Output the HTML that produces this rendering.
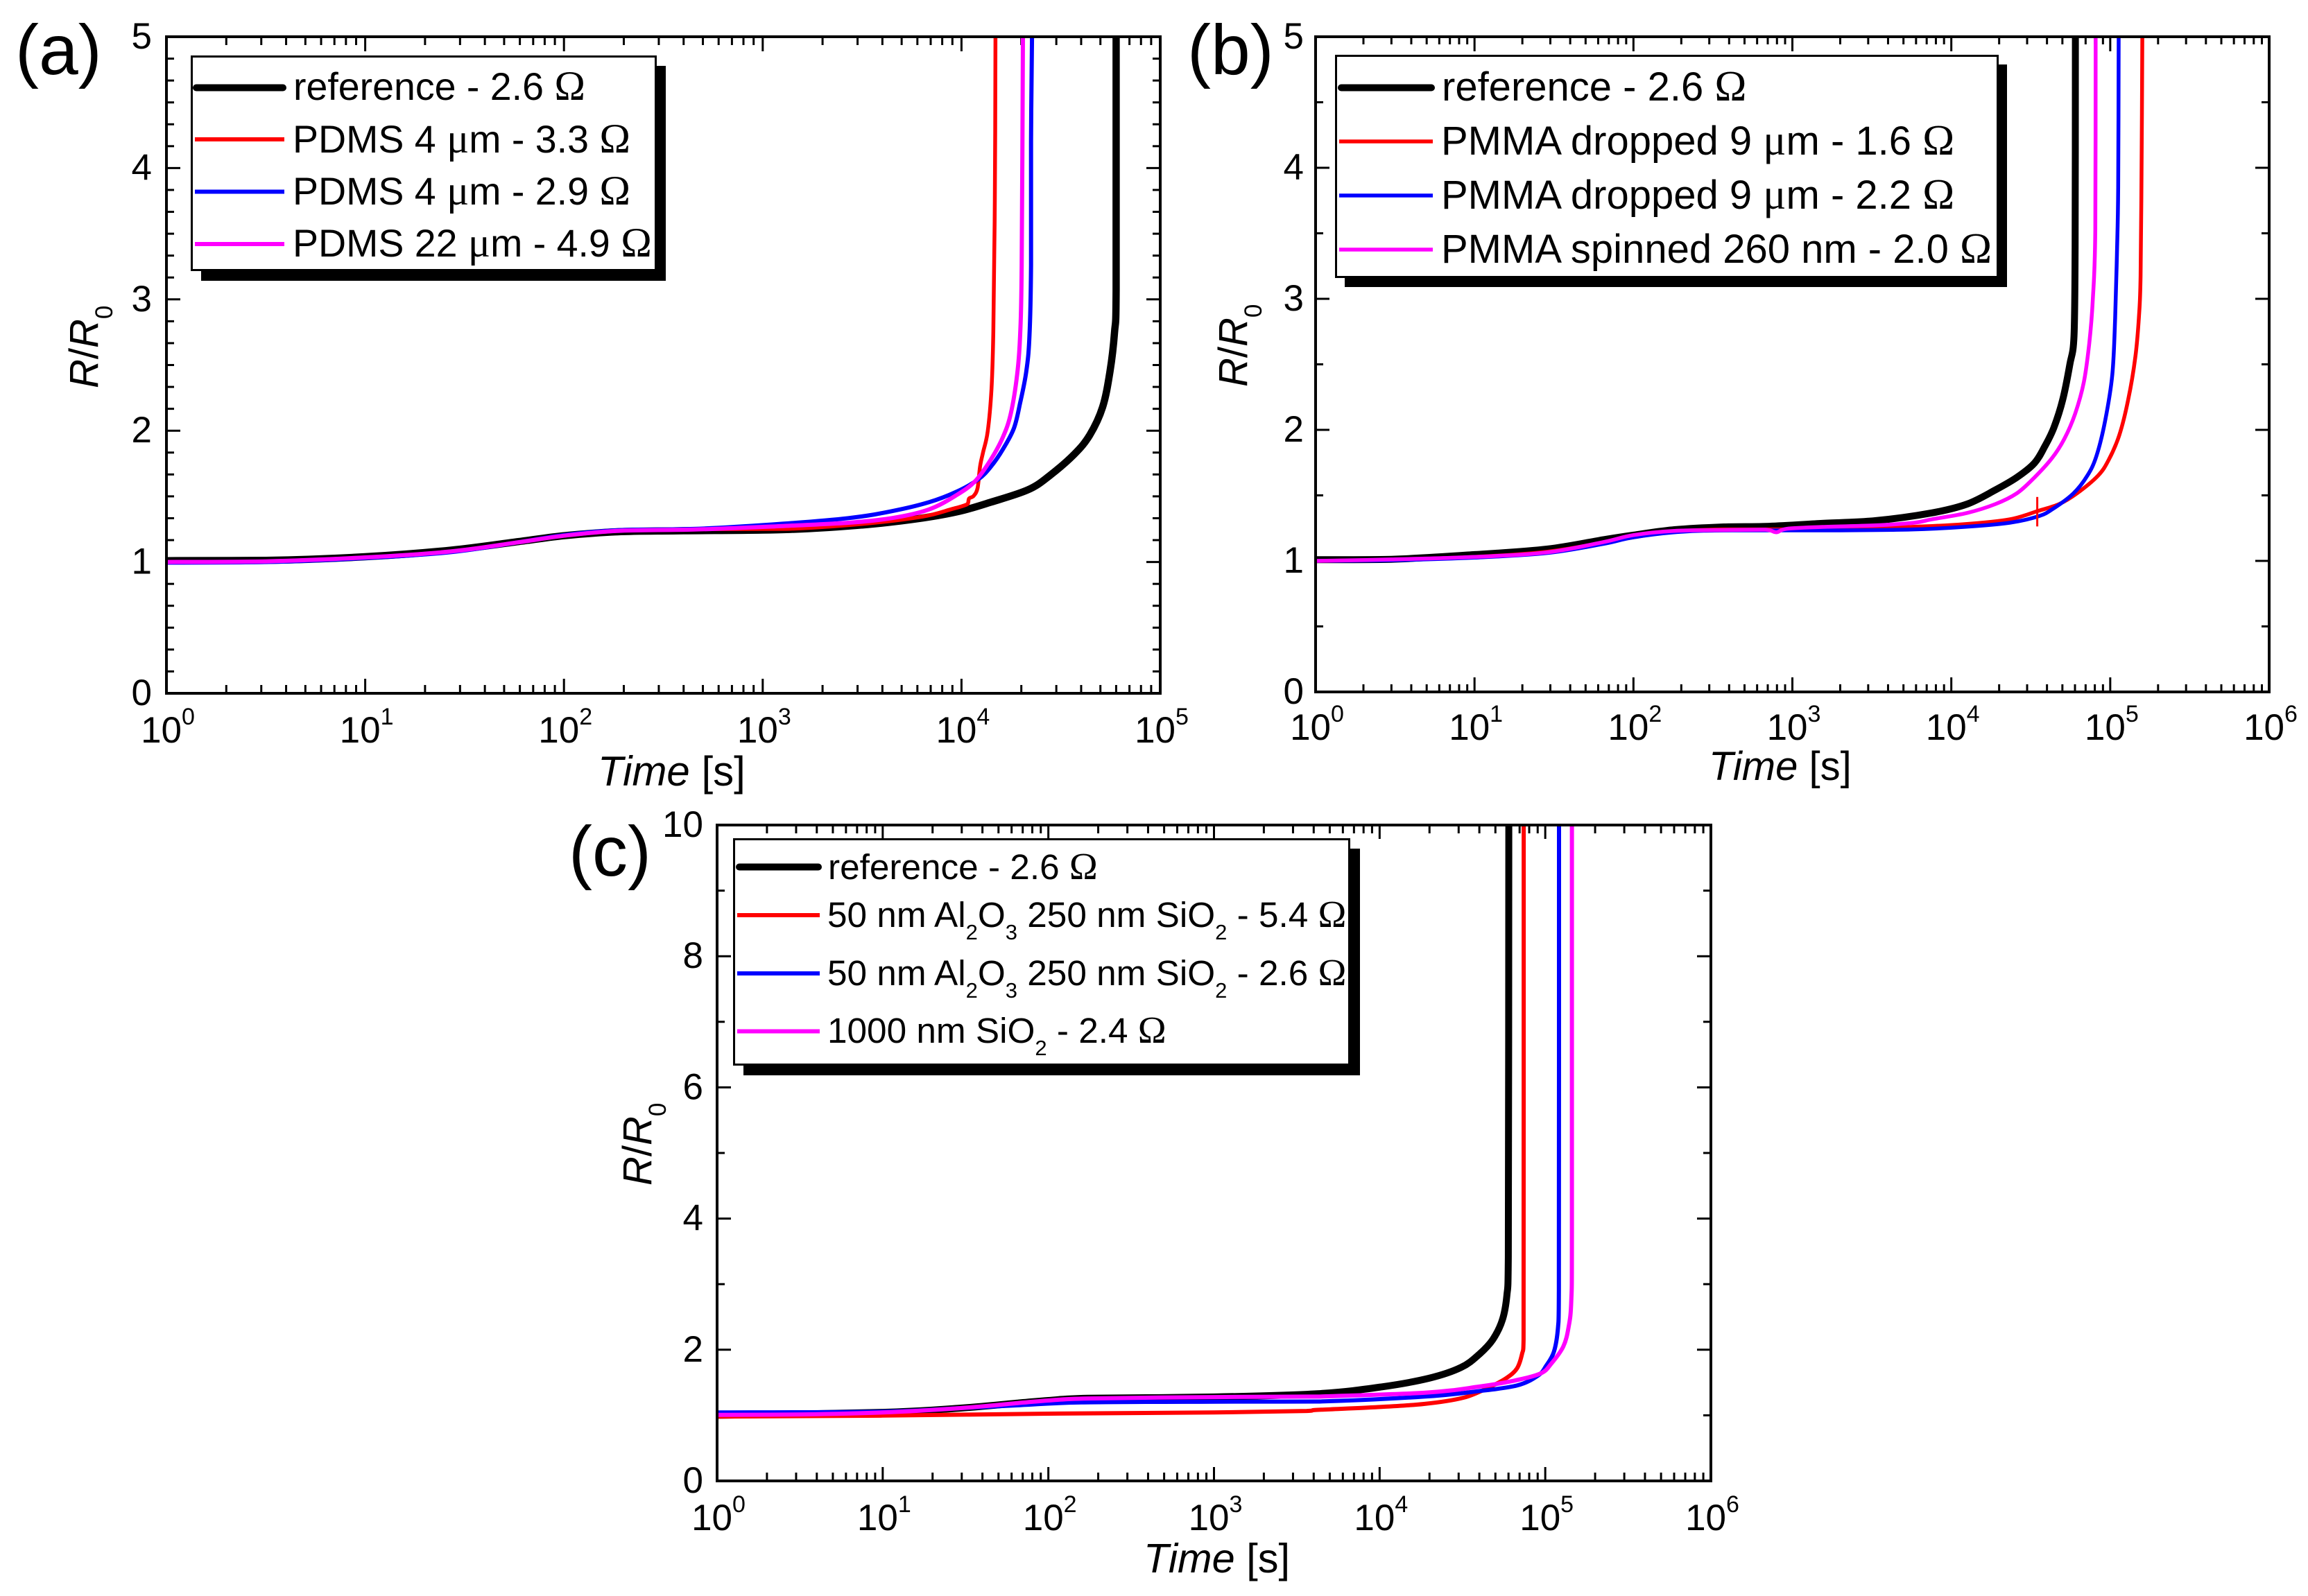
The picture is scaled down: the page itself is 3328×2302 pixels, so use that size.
<!DOCTYPE html>
<html lang="en">
<head>
<meta charset="utf-8">
<title>Normalized resistance versus time</title>
<style>
html,body{margin:0;padding:0;background:#fff;}
svg{display:block;}
text{font-family:"Liberation Sans",Arial,sans-serif;fill:#000;}
.omega{font-family:"Liberation Serif","Times New Roman",serif;}
.la .omega{font-size:60px;}
.lb .omega{font-size:62px;}
.lc .omega{font-size:55px;}
.it{font-style:italic;}
</style>
</head>
<body>
<svg id="figure" xmlns="http://www.w3.org/2000/svg" width="3328" height="2302" viewBox="0 0 3328 2302">
  <rect width="3328" height="2302" fill="#fff"/>
  <g id="panel-a"></g>
  <g id="panel-b"></g>
  <g id="panel-c"></g>

  <!-- Panel labels -->
  <text x="22" y="107" font-size="102">(a)</text>
  <text x="1712" y="107" font-size="102">(b)</text>
  <text x="820" y="1263" font-size="102">(c)</text>

  <!-- Axis titles -->
  <text x="862" y="1133" font-size="60"><tspan class="it">Time</tspan> [s]</text>
  <text x="2464" y="1125" font-size="58"><tspan class="it">Time</tspan> [s]</text>
  <text x="1649" y="2268" font-size="59.5"><tspan class="it">Time</tspan> [s]</text>
  <text transform="translate(141 560) rotate(-90)" font-size="58"><tspan class="it">R</tspan>/<tspan class="it">R</tspan><tspan dy="21" font-size="35">0</tspan></text>
  <text transform="translate(1798 558) rotate(-90)" font-size="58"><tspan class="it">R</tspan>/<tspan class="it">R</tspan><tspan dy="21" font-size="35">0</tspan></text>
  <text transform="translate(939 1710) rotate(-90)" font-size="58"><tspan class="it">R</tspan>/<tspan class="it">R</tspan><tspan dy="21" font-size="35">0</tspan></text>

  <!-- Legend A -->
  <g class="la">
    <rect x="290" y="95" width="670" height="310" fill="#000"/>
    <rect x="276.5" y="81.5" width="669" height="308" fill="#fff" stroke="#000" stroke-width="3"/>
    <line x1="283" x2="408" y1="126.5" y2="126.5" stroke="#000" stroke-width="10" stroke-linecap="round"/>
    <text x="423" y="144" font-size="55.5">reference - 2.6 <tspan class="omega">Ω</tspan></text>
    <line x1="281" x2="410" y1="201" y2="201" stroke="#f00" stroke-width="6"/>
    <text x="422" y="220" font-size="55.5">PDMS 4 <tspan class="omega">μ</tspan>m - 3.3 <tspan class="omega">Ω</tspan></text>
    <line x1="281" x2="410" y1="276.5" y2="276.5" stroke="#00f" stroke-width="6"/>
    <text x="422" y="295" font-size="55.5">PDMS 4 <tspan class="omega">μ</tspan>m - 2.9 <tspan class="omega">Ω</tspan></text>
    <line x1="281" x2="410" y1="352" y2="352" stroke="#f0f" stroke-width="6"/>
    <text x="422" y="370" font-size="55.5">PDMS 22 <tspan class="omega">μ</tspan>m - 4.9 <tspan class="omega">Ω</tspan></text>
  </g>

  <!-- Legend B -->
  <g class="lb">
    <rect x="1939" y="93" width="955" height="321" fill="#000"/>
    <rect x="1926.5" y="80.5" width="954" height="319" fill="#fff" stroke="#000" stroke-width="3"/>
    <line x1="1934" x2="2064" y1="126.5" y2="126.5" stroke="#000" stroke-width="10" stroke-linecap="round"/>
    <text x="2079" y="145" font-size="58">reference - 2.6 <tspan class="omega">Ω</tspan></text>
    <line x1="1931" x2="2066" y1="204" y2="204" stroke="#f00" stroke-width="5.5"/>
    <text x="2078" y="223" font-size="58">PMMA dropped 9 <tspan class="omega">μ</tspan>m - 1.6 <tspan class="omega">Ω</tspan></text>
    <line x1="1931" x2="2066" y1="282" y2="282" stroke="#00f" stroke-width="5.5"/>
    <text x="2078" y="301" font-size="58">PMMA dropped 9 <tspan class="omega">μ</tspan>m - 2.2 <tspan class="omega">Ω</tspan></text>
    <line x1="1931" x2="2066" y1="360" y2="360" stroke="#f0f" stroke-width="5.5"/>
    <text x="2078" y="379" font-size="58">PMMA spinned 260 nm - 2.0 <tspan class="omega">Ω</tspan></text>
  </g>

  <!-- Legend C -->
  <g class="lc">
    <rect x="1072" y="1224" width="889" height="327" fill="#000"/>
    <rect x="1058.5" y="1210.5" width="887" height="325" fill="#fff" stroke="#000" stroke-width="3"/>
    <line x1="1066" x2="1180" y1="1250.5" y2="1250.5" stroke="#000" stroke-width="10" stroke-linecap="round"/>
    <text x="1194" y="1268" font-size="51.3">reference - 2.6 <tspan class="omega">Ω</tspan></text>
    <line x1="1063" x2="1182" y1="1320" y2="1320" stroke="#f00" stroke-width="6"/>
    <text x="1193" y="1337" font-size="51.3">50 nm Al<tspan dy="18" font-size="31">2</tspan><tspan dy="-18">O</tspan><tspan dy="18" font-size="31">3</tspan><tspan dy="-18"> 250 nm SiO</tspan><tspan dy="18" font-size="31">2</tspan><tspan dy="-18"> - 5.4 </tspan><tspan class="omega">Ω</tspan></text>
    <line x1="1063" x2="1182" y1="1404" y2="1404" stroke="#00f" stroke-width="6"/>
    <text x="1193" y="1421" font-size="51.3">50 nm Al<tspan dy="18" font-size="31">2</tspan><tspan dy="-18">O</tspan><tspan dy="18" font-size="31">3</tspan><tspan dy="-18"> 250 nm SiO</tspan><tspan dy="18" font-size="31">2</tspan><tspan dy="-18"> - 2.6 </tspan><tspan class="omega">Ω</tspan></text>
    <line x1="1063" x2="1182" y1="1487.5" y2="1487.5" stroke="#f0f" stroke-width="6"/>
    <text x="1193" y="1504" font-size="51.3">1000 nm SiO<tspan dy="18" font-size="31">2</tspan><tspan dy="-18"> - 2.4 </tspan><tspan class="omega">Ω</tspan></text>
  </g>
</svg>

<script>
// ---------- Tick labels ----------
const xExponentsA = [0, 1, 2, 3, 4, 5];
const xExponentsB = [0, 1, 2, 3, 4, 5, 6];
const xExponentsC = [0, 1, 2, 3, 4, 5, 6];
const yTicksA = [0, 1, 2, 3, 4, 5];
const yTicksB = [0, 1, 2, 3, 4, 5];
const yTicksC = [0, 2, 4, 6, 8, 10];

// ---------- Panel (a): log10(time/s) and R/R0 ----------
const aRefLogT = [0, 0.5, 1, 1.43, 1.77, 2, 2.27, 2.6, 3.119, 3.524, 3.804, 3.992, 4.147, 4.335, 4.443, 4.567, 4.645, 4.71, 4.747, 4.77, 4.778, 4.778];
const aRefR = [1.01, 1.012, 1.04, 1.09, 1.155, 1.2, 1.23, 1.238, 1.247, 1.285, 1.335, 1.387, 1.455, 1.55, 1.657, 1.82, 1.966, 2.18, 2.45, 2.75, 3.07, 5];
const aRedLogT = [0, 0.5, 1, 1.43, 1.77, 2, 2.27, 2.6, 3.119, 3.524, 3.804, 3.944, 4.03, 4.038, 4.061, 4.081, 4.093, 4.108, 4.132, 4.151, 4.16, 4.168, 4.171];
const aRedR = [1, 1.005, 1.035, 1.08, 1.15, 1.2, 1.237, 1.25, 1.252, 1.293, 1.346, 1.4, 1.441, 1.483, 1.503, 1.563, 1.724, 1.832, 1.994, 2.318, 2.747, 3.77, 5];
const aBlueLogT = [0, 0.5, 1, 1.43, 1.77, 2, 2.27, 2.652, 3.041, 3.431, 3.649, 3.836, 3.976, 4.085, 4.147, 4.209, 4.264, 4.295, 4.326, 4.342, 4.35, 4.35, 4.355];
const aBlueR = [0.995, 1, 1.03, 1.075, 1.15, 1.205, 1.242, 1.252, 1.285, 1.334, 1.387, 1.455, 1.536, 1.63, 1.724, 1.86, 2.02, 2.21, 2.45, 2.72, 3.26, 4.2, 5];
const aMagLogT = [0, 0.5, 1, 1.43, 1.77, 2, 2.27, 2.652, 3.041, 3.431, 3.649, 3.836, 3.976, 4.069, 4.147, 4.209, 4.248, 4.28, 4.295, 4.303, 4.309];
const aMagR = [1, 1.005, 1.035, 1.08, 1.15, 1.2, 1.237, 1.247, 1.27, 1.299, 1.334, 1.4, 1.51, 1.616, 1.778, 1.953, 2.13, 2.425, 2.72, 3.26, 5];

// ---------- Panel (b) ----------
const bRefLogT = [0, 0.476, 1, 1.456, 1.812, 2, 2.258, 2.569, 2.853, 3.188, 3.521, 3.877, 4.1, 4.278, 4.411, 4.523, 4.59, 4.645, 4.701, 4.746, 4.772, 4.779, 4.781];
const bRefR = [1.009, 1.012, 1.048, 1.09, 1.162, 1.197, 1.238, 1.259, 1.264, 1.286, 1.307, 1.366, 1.434, 1.542, 1.636, 1.746, 1.878, 2.016, 2.23, 2.5, 2.716, 3.39, 5];
const bRedLogT = [0, 0.476, 1, 1.456, 1.812, 2, 2.258, 2.569, 3, 3.299, 3.744, 4.078, 4.367, 4.545, 4.679, 4.79, 4.923, 4.99, 5.057, 5.113, 5.158, 5.18, 5.191, 5.198, 5.202];
const bRedR = [1, 1.008, 1.03, 1.07, 1.14, 1.18, 1.225, 1.24, 1.24, 1.245, 1.259, 1.28, 1.317, 1.381, 1.434, 1.515, 1.65, 1.77, 1.96, 2.23, 2.555, 2.852, 3.175, 4.148, 5];
const bRedSpikeLogT = [4.541, 4.541];
const bRedSpikeR = [1.488, 1.263];
const bBlueLogT = [0, 0.476, 1, 1.456, 1.812, 2, 2.3, 2.631, 3.232, 3.744, 4.078, 4.367, 4.545, 4.634, 4.768, 4.856, 4.913, 4.968, 5.013, 5.031, 5.042, 5.05, 5.053];
const bBlueR = [1, 1.005, 1.025, 1.06, 1.13, 1.18, 1.222, 1.233, 1.233, 1.239, 1.259, 1.291, 1.339, 1.393, 1.515, 1.65, 1.8, 2.07, 2.42, 2.85, 3.34, 3.85, 5];
const bMagLogT = [0, 0.476, 1, 1.456, 1.812, 2, 2.258, 2.6, 2.831, 2.898, 2.965, 3.188, 3.521, 3.766, 3.877, 4.1, 4.278, 4.411, 4.523, 4.634, 4.712, 4.779, 4.834, 4.868, 4.89, 4.906, 4.908];
const bMagR = [1, 1.011, 1.03, 1.065, 1.144, 1.197, 1.229, 1.236, 1.238, 1.218, 1.245, 1.259, 1.271, 1.291, 1.317, 1.366, 1.434, 1.515, 1.636, 1.785, 1.933, 2.122, 2.365, 2.66, 2.986, 3.526, 5];

// ---------- Panel (c) ----------
const cRefLogT = [0, 1, 1.47, 1.83, 2, 2.24, 3, 3.626, 4.011, 4.299, 4.492, 4.604, 4.684, 4.741, 4.768, 4.777, 4.78];
const cRefR = [1, 1.045, 1.11, 1.19, 1.226, 1.26, 1.28, 1.33, 1.433, 1.566, 1.73, 1.937, 2.158, 2.455, 2.826, 3.42, 10];
const cRedLogT = [0, 1, 2, 3, 3.56, 3.626, 3.947, 4.268, 4.508, 4.668, 4.764, 4.829, 4.86, 4.869, 4.87];
const cRedR = [0.98, 0.996, 1.025, 1.043, 1.067, 1.084, 1.12, 1.173, 1.27, 1.437, 1.566, 1.714, 1.937, 2.158, 10];
const cBlueLogT = [0, 1, 1.47, 1.83, 2.2, 3, 3.626, 4.268, 4.588, 4.829, 4.956, 5.005, 5.053, 5.077, 5.082, 5.083];
const cBlueR = [1.043, 1.056, 1.11, 1.155, 1.197, 1.208, 1.21, 1.285, 1.366, 1.455, 1.606, 1.754, 1.975, 2.345, 2.9, 10];
const cMagLogT = [0, 0.517, 1, 1.47, 1.83, 2, 2.24, 3, 3.56, 3.626, 4.268, 4.588, 4.812, 4.973, 5.037, 5.109, 5.141, 5.157, 5.161, 5.161];
const cMagR = [1.007, 1.014, 1.043, 1.11, 1.19, 1.226, 1.257, 1.278, 1.285, 1.285, 1.344, 1.433, 1.529, 1.64, 1.79, 2.05, 2.345, 2.75, 3.79, 10];

const NS = 'http://www.w3.org/2000/svg';

function make(tag, parent) {
  const el = document.createElementNS(NS, tag);
  parent.appendChild(el);
  return el;
}

function clamp(v, a, b) {
  return Math.max(Math.min(a, b), Math.min(Math.max(a, b), v));
}

// Catmull-Rom curve through the points, controls clamped to each segment's box (no overshoot)
function smoothPath(points) {
  let d = 'M' + points[0][0].toFixed(1) + ' ' + points[0][1].toFixed(1);
  for (let i = 0; i < points.length - 1; i++) {
    const p0 = points[Math.max(i - 1, 0)];
    const p1 = points[i];
    const p2 = points[i + 1];
    const p3 = points[Math.min(i + 2, points.length - 1)];
    const c1x = clamp(p1[0] + (p2[0] - p0[0]) / 6, p1[0], p2[0]);
    const c1y = clamp(p1[1] + (p2[1] - p0[1]) / 6, p1[1], p2[1]);
    const c2x = clamp(p2[0] - (p3[0] - p1[0]) / 6, p1[0], p2[0]);
    const c2y = clamp(p2[1] - (p3[1] - p1[1]) / 6, p1[1], p2[1]);
    d += 'C' + c1x.toFixed(1) + ' ' + c1y.toFixed(1) + ' ' + c2x.toFixed(1) + ' ' + c2y.toFixed(1) + ' ' + p2[0].toFixed(1) + ' ' + p2[1].toFixed(1);
  }
  return d;
}

function drawPanel(id, g, xExponents, yTicks, series, spikes) {
  const root = document.getElementById('panel-' + id);
  const minLog = xExponents[0];
  const maxLog = xExponents[xExponents.length - 1];
  const maxY = yTicks[yTicks.length - 1];
  const xPos = function (logT) {
    return g.left + (logT - minLog) * (g.right - g.left) / (maxLog - minLog);
  };
  const yPos = function (r) {
    return g.bottom - r * (g.bottom - g.top) / maxY;
  };
  const top = yPos(maxY);
  const bottom = yPos(0);
  const left = xPos(minLog);
  const right = xPos(maxLog);

  // x ticks, mirrored on top
  const minorMult = [2, 3, 4, 5, 6, 7, 8, 9];
  const xTickData = [];
  xExponents.forEach(function (exp, i) {
    if (i > 0 && i < xExponents.length - 1) xTickData.push([exp, g.majorLen]);
    if (i < xExponents.length - 1) {
      minorMult.forEach(function (m) {
        xTickData.push([exp + Math.log10(m), g.minorLen]);
      });
    }
  });
  xTickData.forEach(function (t) {
    const px = xPos(t[0]);
    [[bottom, bottom - t[1]], [top, top + t[1]]].forEach(function (ends, side) {
      const tick = make('line', root);
      
      
      tick.setAttribute('x1', px);
      tick.setAttribute('x2', px);
      tick.setAttribute('y1', ends[0]);
      tick.setAttribute('y2', ends[1]);
      tick.setAttribute('stroke', '#000');
      tick.setAttribute('stroke-width', '3');
    });
  });

  // y ticks, mirrored on right
  const step = yTicks[1] - yTicks[0];
  const yTickData = [];
  yTicks.forEach(function (v, i) {
    if (i > 0 && i < yTicks.length - 1) yTickData.push([v, 20]);
    if (i < yTicks.length - 1) {
      for (let k = 1; k < g.yMinorDiv; k++) {
        yTickData.push([v + k * step / g.yMinorDiv, 11]);
      }
    }
  });
  yTickData.forEach(function (t) {
    const py = yPos(t[0]);
    [[left, left + t[1]], [right, right - t[1]]].forEach(function (ends, side) {
      const tick = make('line', root);
      
      
      tick.setAttribute('x1', ends[0]);
      tick.setAttribute('x2', ends[1]);
      tick.setAttribute('y1', py);
      tick.setAttribute('y2', py);
      tick.setAttribute('stroke', '#000');
      tick.setAttribute('stroke-width', '3');
    });
  });

  // curves
  series.forEach(function (s) {
    const line = make('path', root);
    
    
    line.setAttribute('fill', 'none');
    line.setAttribute('stroke', s.color);
    line.setAttribute('stroke-width', s.width);
    line.setAttribute('stroke-linejoin', 'round');
    const pts = s.logT.map(function (v, i) {
      return [xPos(v), yPos(s.r[i])];
    });
    line.setAttribute('d', smoothPath(pts));
  });
  spikes.forEach(function (s) {
    const line = make('polyline', root);
    
    
    line.setAttribute('fill', 'none');
    line.setAttribute('stroke', s.color);
    line.setAttribute('stroke-width', s.width);
    const pts = s.logT.map(function (v, i) {
      return xPos(v).toFixed(1) + ',' + yPos(s.r[i]).toFixed(1);
    });
    line.setAttribute('points', pts.join(' '));
  });

  // frame
  const frame = make('rect', root);
  
  
  frame.setAttribute('x', left);
  frame.setAttribute('y', top);
  frame.setAttribute('width', right - left);
  frame.setAttribute('height', bottom - top);
  frame.setAttribute('fill', 'none');
  frame.setAttribute('stroke', '#000');
  frame.setAttribute('stroke-width', '4');

  // y tick labels
  yTicks.forEach(function (v) {
    const t = make('text', root);
    
    
    t.setAttribute('x', g.yLabelX);
    t.setAttribute('y', yPos(v) + 17);
    t.setAttribute('font-size', '53');
    t.setAttribute('text-anchor', 'end');
    t.textContent = String(v);
  });

  // x tick labels
  xExponents.forEach(function (exp) {
    const t = make('text', root);
    
    
    t.setAttribute('x', xPos(exp) + 2);
    t.setAttribute('y', g.xLabelY);
    t.setAttribute('font-size', '53');
    t.setAttribute('text-anchor', 'middle');
    t.appendChild(document.createTextNode('10'));
    const sup = make('tspan', t);
    sup.setAttribute('font-size', '34');
    sup.setAttribute('dy', '-26');
    sup.textContent = String(exp);
  });
}

drawPanel('a', { left: 240, right: 1673, top: 53, bottom: 1000, majorLen: 21, minorLen: 12, yMinorDiv: 6, yLabelX: 219, xLabelY: 1071 },
  xExponentsA, yTicksA, [
    { name: 'reference', color: '#000', width: 10.5, logT: aRefLogT, r: aRefR },
    { name: 'pdms-4um-3-3-ohm', color: '#f00', width: 5.5, logT: aRedLogT, r: aRedR },
    { name: 'pdms-4um-2-9-ohm', color: '#00f', width: 6, logT: aBlueLogT, r: aBlueR },
    { name: 'pdms-22um-4-9-ohm', color: '#f0f', width: 6, logT: aMagLogT, r: aMagR }
  ], []);

drawPanel('b', { left: 1897, right: 3272, top: 53, bottom: 998, majorLen: 21, minorLen: 11, yMinorDiv: 2, yLabelX: 1880, xLabelY: 1067 },
  xExponentsB, yTicksB, [
    { name: 'reference', color: '#000', width: 10, logT: bRefLogT, r: bRefR },
    { name: 'pmma-dropped-1-6-ohm', color: '#f00', width: 5.5, logT: bRedLogT, r: bRedR },
    { name: 'pmma-dropped-2-2-ohm', color: '#00f', width: 5.5, logT: bBlueLogT, r: bBlueR },
    { name: 'pmma-spinned-2-0-ohm', color: '#f0f', width: 5.5, logT: bMagLogT, r: bMagR }
  ], [
    { name: 'pmma-dropped-spike', color: '#f00', width: 3, logT: bRedSpikeLogT, r: bRedSpikeR }
  ]);

drawPanel('c', { left: 1034, right: 2467, top: 1190, bottom: 2136, majorLen: 20, minorLen: 12, yMinorDiv: 2, yLabelX: 1014, xLabelY: 2207 },
  xExponentsC, yTicksC, [
    { name: 'reference', color: '#000', width: 10, logT: cRefLogT, r: cRefR },
    { name: 'al2o3-sio2-5-4-ohm', color: '#f00', width: 6, logT: cRedLogT, r: cRedR },
    { name: 'al2o3-sio2-2-6-ohm', color: '#00f', width: 6, logT: cBlueLogT, r: cBlueR },
    { name: 'sio2-2-4-ohm', color: '#f0f', width: 6, logT: cMagLogT, r: cMagR }
  ], []);
</script>
</body>
</html>
